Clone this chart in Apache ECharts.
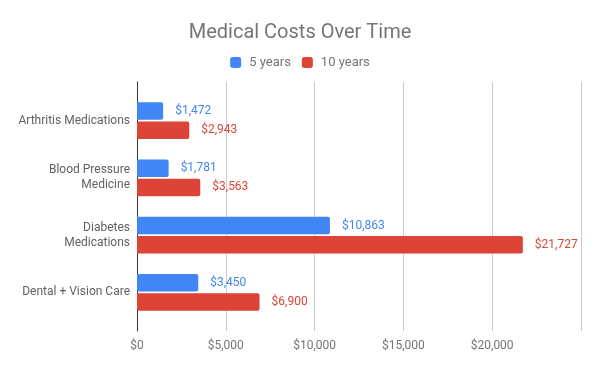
<!DOCTYPE html>
<html><head><meta charset="utf-8">
<script src="https://cdn.jsdelivr.net/npm/echarts@6/dist/echarts.min.js"></script>
<style>html,body{margin:0;padding:0;background:#fff}#c{width:600px;height:371px}</style>
</head><body><div id="c"></div>
<script>
const categories = ['Arthritis Medications', 'Blood Pressure\nMedicine', 'Diabetes\nMedications', 'Dental + Vision Care'];
const fiveYears = [1472, 1781, 10863, 3450];
const tenYears = [2943, 3563, 21727, 6900];
const seriesNames = ['5 years', '10 years'];
const xMax = 25000;
const xInterval = 5000;

const fmt = v => '$' + Math.round(v).toLocaleString('en-US');
const font = 'Roboto';
const chart = echarts.init(document.getElementById('c'), null, {renderer: 'canvas'});
chart.setOption({
  animation: false,
  textStyle: {fontFamily: font},
  title: {text: 'Medical Costs Over Time', left: 'center', top: 18,
    textStyle: {fontFamily: font, fontSize: 20, fontWeight: 'normal', color: '#757575'}},
  legend: {top: 51, left: 'center', itemWidth: 11, itemHeight: 11, itemGap: 11,
    icon: 'roundRect',
    textStyle: {fontFamily: font, fontSize: 13, color: '#757575', padding: [0, 0, 0, 3]},
    data: seriesNames},
  grid: [
    {left: 137, right: 19, top: 92, height: 229, containLabel: false},
    {left: 137, right: 19, top: 82, height: 249, containLabel: false}
  ],
  xAxis: [
    {gridIndex: 0, type: 'value', min: 0, max: xMax, interval: xInterval, show: false},
    {gridIndex: 1, type: 'value', min: 0, max: xMax, interval: xInterval,
      axisLine: {show: false}, axisTick: {show: false},
      splitLine: {lineStyle: {color: '#cccccc', width: 1}},
      axisLabel: {formatter: fmt, showMaxLabel: false, color: '#757575', fontSize: 12, fontFamily: font, margin: 9}}
  ],
  yAxis: [
    {gridIndex: 0, type: 'category', inverse: true, data: categories,
      axisLine: {show: false}, axisTick: {show: false}, splitLine: {show: false},
      axisLabel: {color: '#616161', fontSize: 12, fontFamily: font, margin: 7, lineHeight: 15, align: 'right'}},
    {gridIndex: 1, type: 'category', data: [''],
      axisLine: {show: true, lineStyle: {color: '#333333', width: 1}},
      axisTick: {show: false}, axisLabel: {show: false}, splitLine: {show: false}}
  ],
  series: [
    {name: seriesNames[0], type: 'bar', xAxisIndex: 0, yAxisIndex: 0, data: fiveYears,
      barCategoryGap: '36%', barGap: '9%',
      itemStyle: {color: '#4285F4', borderRadius: [0, 2, 2, 0]},
      label: {show: true, position: 'right', distance: 12, formatter: p => fmt(p.value),
        color: '#4285F4', fontSize: 12, fontFamily: font}},
    {name: seriesNames[1], type: 'bar', xAxisIndex: 0, yAxisIndex: 0, data: tenYears,
      barCategoryGap: '36%', barGap: '9%',
      itemStyle: {color: '#DB4437', borderRadius: [0, 2, 2, 0]},
      label: {show: true, position: 'right', distance: 12, formatter: p => fmt(p.value),
        color: '#DB4437', fontSize: 12, fontFamily: font}}
  ]
});
</script></body></html>
